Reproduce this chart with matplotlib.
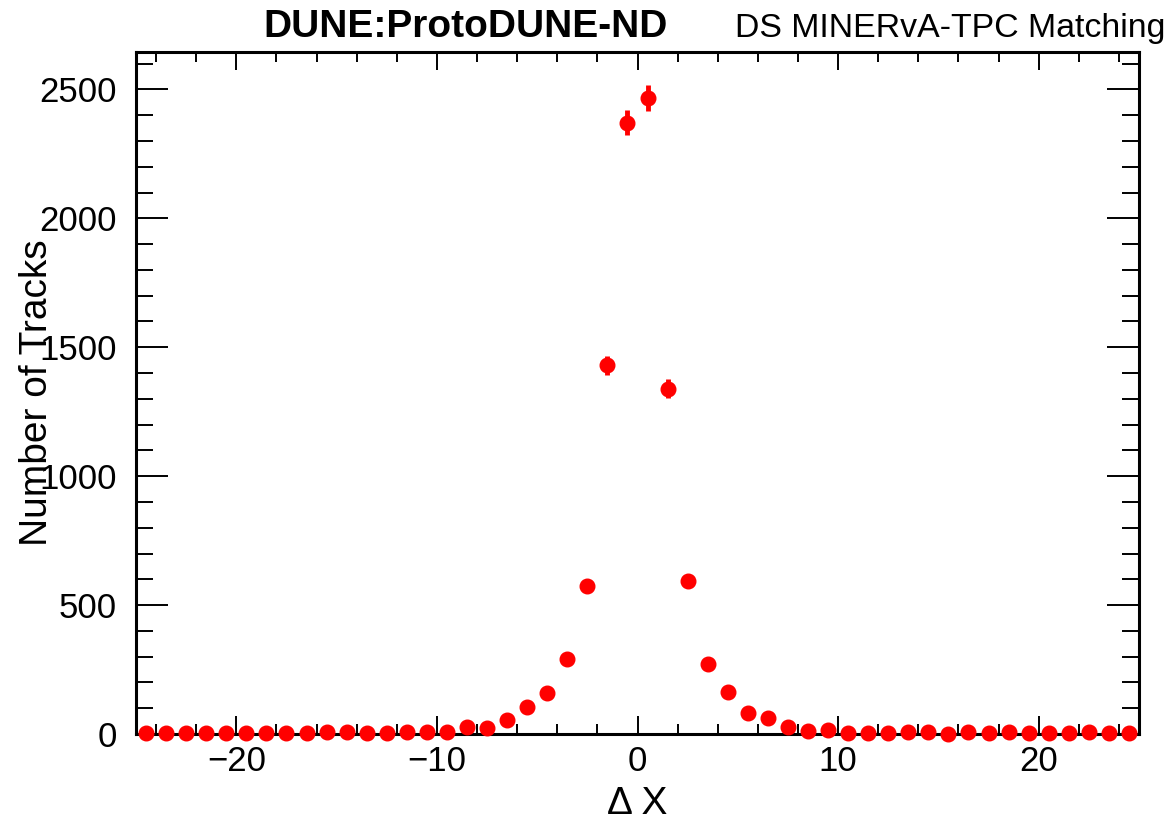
import numpy as np
import matplotlib.pyplot as plt

plt.rcParams['font.family'] = ['Liberation Sans', 'DejaVu Sans']

# bin centres of delta X (bin width 1, -25..25)
bin_centers = np.arange(-24.5, 25.0, 1.0)
# number of tracks per bin
counts = [2, 2, 2, 2, 2, 2, 2, 2, 2, 9,
          9, 2, 2, 8, 8, 9, 27, 25, 53, 103,
          158, 290, 574, 1430, 2370, 2467, 1339, 592, 273, 163,
          82, 61, 26, 13, 14, 5, 5, 5, 6, 9,
          1, 7, 2, 7, 2, 2, 2, 9, 2, 2]

counts = np.array(counts, dtype=float)
errors = np.sqrt(counts)  # poisson errors

fig = plt.figure(figsize=(11.71, 8.23), dpi=100)
ax = fig.add_axes([136 / 1171, 1 - 734 / 823, (1139 - 136) / 1171, (734 - 52) / 823])

ax.errorbar(bin_centers, counts, yerr=errors, fmt='o', color='red',
            markersize=10.5, elinewidth=3.5, capsize=0, zorder=3, clip_on=False)

ax.set_xlim(-25, 25)
ax.set_ylim(0, 2645)

ax.set_xticks([-20, -10, 0, 10, 20])
ax.set_xticks(np.arange(-24, 25, 2), minor=True)
ax.set_yticks([0, 500, 1000, 1500, 2000, 2500])
ax.set_yticks(np.arange(0, 2645, 100), minor=True)

ax.tick_params(axis='both', which='both', direction='in', top=True, right=True,
               labelsize=25, width=1.4, color='black')
ax.tick_params(axis='x', which='major', length=13, pad=8)
ax.tick_params(axis='x', which='minor', length=7)
ax.tick_params(axis='y', which='major', length=23, pad=14)
ax.tick_params(axis='y', which='minor', length=12.5)

for s in ax.spines.values():
    s.set_linewidth(2.2)

# axis titles placed like the ROOT canvas (y title sits over the tick labels, as in ROOT)
fig.text(37 / 1171, 1 - 393 / 823, 'Number of Tracks', rotation=90,
         ha='center', va='center', fontsize=28)
fig.text(637 / 1171, 1 - 804 / 823, 'Δ X', ha='center', va='center', fontsize=28)

fig.text(263 / 1171, 1 - 37 / 823, 'DUNE:ProtoDUNE-ND', fontsize=28,
         fontweight='bold', ha='left', va='baseline')
fig.text(735 / 1171, 1 - 37 / 823, 'DS MINERvA-TPC Matching', fontsize=24.4,
         ha='left', va='baseline')

fig.savefig('out.png', dpi=100)
